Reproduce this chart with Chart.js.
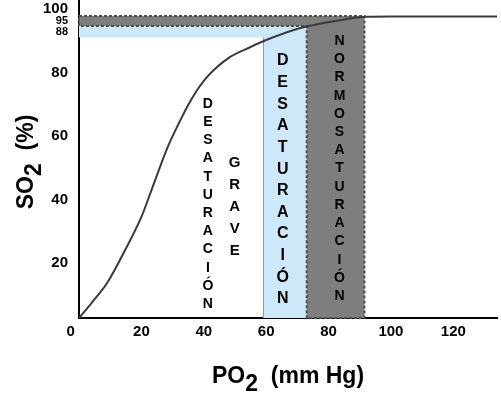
<!DOCTYPE html>
<html><head><meta charset="utf-8">
<script src="https://cdn.jsdelivr.net/npm/chart.js@4/dist/chart.umd.min.js"></script>
<style>html,body{margin:0;padding:0;background:#fff}canvas{display:block}</style>
</head><body>
<canvas id="c" width="501" height="398"></canvas>
<script>
// Oxyhemoglobin dissociation curve
const po2 = [0, 4, 9, 15, 20, 24, 28, 31, 36, 41, 48, 55, 60, 71, 84, 92, 100, 134];
const so2 = [2.7, 7.4, 13.7, 24.5, 34.5, 45, 55.5, 62, 71.5, 78.5, 84.6, 88, 90.2, 94, 96.5, 97.5, 97.6, 97.6];

// Zones
const desatPO2 = [59, 73];      // desaturación (vertical strip)
const desatSO2 = [91, 94.6];    // desaturación (horizontal band)
const normoPO2 = [73, 91.5];    // normosaturación (vertical strip)
const normoSO2 = [94.6, 97.8];  // normosaturación (horizontal band)

// Ticks
const xTickValues = [0, 20, 40, 60, 80, 100, 120];
const xTickLabels = ['0    ', '20', '40', '60', '80', '100', '120'];
const yTickValues = [20, 40, 60, 80, 92.8, 96.2, 100];
const yTickLabels = ['20', '40', '60', '80', '88', '95', '100'];

// Texts
const zoneTexts = ['DESATURACIÓN', 'GRAVE', 'DESATURACIÓN', 'NORMOSATURACIÓN'];
const xTitle = ['PO', '2', '  (mm Hg)'];
const yTitle = ['SO', '2', '  (%)'];

const FONT = '"Liberation Sans", Arial, Helvetica, sans-serif';

const zonesPlugin = {
  id: 'zones',
  beforeDatasetsDraw(chart) {
    const {ctx, chartArea: a, scales: {x, y}} = chart;
    const X = v => x.getPixelForValue(v), Y = v => y.getPixelForValue(v);
    ctx.save();
    // light blue zone
    ctx.fillStyle = '#cde8f8';
    ctx.fillRect(a.left, Y(desatSO2[1]), X(desatPO2[1]) - a.left, Y(desatSO2[0]) - Y(desatSO2[1]));
    ctx.fillRect(X(desatPO2[0]), Y(desatSO2[1]), X(desatPO2[1]) - X(desatPO2[0]), a.bottom - Y(desatSO2[1]));
    ctx.strokeStyle = '#9a9a9a'; ctx.lineWidth = 1;
    ctx.beginPath();
    ctx.moveTo(Math.round(X(desatPO2[0])) + 0.5, Y(desatSO2[0]));
    ctx.lineTo(Math.round(X(desatPO2[0])) + 0.5, a.bottom);
    ctx.stroke();
    // dark gray zone
    ctx.beginPath();
    ctx.moveTo(a.left, Y(normoSO2[1]));
    ctx.lineTo(X(normoPO2[1]), Y(normoSO2[1]));
    ctx.lineTo(X(normoPO2[1]), a.bottom);
    ctx.lineTo(X(normoPO2[0]), a.bottom);
    ctx.lineTo(X(normoPO2[0]), Y(normoSO2[0]));
    ctx.lineTo(a.left, Y(normoSO2[0]));
    ctx.closePath();
    ctx.fillStyle = '#7e7e7e';
    ctx.fill();
    ctx.setLineDash([3, 2]);
    ctx.lineWidth = 2;
    ctx.strokeStyle = '#4e4e4e';
    ctx.stroke();
    ctx.restore();
  },
  afterDatasetsDraw(chart) {
    const {ctx, scales: {x, y}} = chart;
    const X = v => x.getPixelForValue(v), Y = v => y.getPixelForValue(v);
    const cols = [
      {t: zoneTexts[0], px: 41.3, s0: 70.4, s1: 7.4, size: 14},
      {t: zoneTexts[1], px: 49.9, s0: 51.8, s1: 24.1, size: 15},
      {t: zoneTexts[2], px: 65.3, s0: 83.9, s1: 9.0, size: 16},
      {t: zoneTexts[3], px: 83.5, s0: 90.2, s1: 9.9, size: 14}
    ];
    ctx.save();
    ctx.fillStyle = '#000';
    ctx.textAlign = 'center';
    ctx.textBaseline = 'middle';
    cols.forEach(c => {
      ctx.font = 'bold ' + c.size + 'px ' + FONT;
      const letters = Array.from(c.t);
      const y0 = Y(c.s0), y1 = Y(c.s1);
      const step = (y1 - y0) / (letters.length - 1);
      letters.forEach((ch, i) => ctx.fillText(ch, X(c.px), y0 + i * step + 1));
    });
    ctx.restore();
  },
  afterDraw(chart) {
    const ctx = chart.ctx;
    ctx.save();
    ctx.fillStyle = '#000';
    ctx.textBaseline = 'alphabetic';
    ctx.textAlign = 'left';
    // x title
    ctx.font = 'bold 23px ' + FONT;
    const w0 = ctx.measureText(xTitle[0]).width;
    const w1 = ctx.measureText(xTitle[1]).width;
    const w2 = ctx.measureText(xTitle[2]).width;
    let sx = 288 - (w0 + w1 + w2) / 2;
    ctx.fillText(xTitle[0], sx, 383);
    ctx.fillText(xTitle[1], sx + w0, 391);
    ctx.fillText(xTitle[2], sx + w0 + w1, 383);
    // y title
    const v0 = ctx.measureText(yTitle[0]).width;
    const v1 = ctx.measureText(yTitle[1]).width;
    const v2 = ctx.measureText(yTitle[2]).width;
    ctx.translate(33, 162 + (v0 + v1 + v2) / 2);
    ctx.rotate(-Math.PI / 2);
    ctx.fillText(yTitle[0], 0, 0);
    ctx.fillText(yTitle[1], v0, 8);
    ctx.fillText(yTitle[2], v0 + v1, 0);
    ctx.restore();
  }
};

new Chart(document.getElementById('c'), {
  type: 'line',
  data: {
    datasets: [{
      data: po2.map((v, i) => ({x: v, y: so2[i]})),
      borderColor: '#3a3a3a',
      borderWidth: 2,
      pointRadius: 0,
      cubicInterpolationMode: 'monotone',
      fill: false
    }]
  },
  options: {
    responsive: false,
    animation: false,
    devicePixelRatio: 1,
    layout: {padding: {left: 0, right: 4, top: 0, bottom: 0}},
    plugins: {legend: {display: false}, tooltip: {enabled: false}},
    scales: {
      x: {
        type: 'linear', min: 0, max: 134,
        grid: {display: false, drawTicks: false},
        border: {display: true, color: '#000', width: 2},
        afterBuildTicks: s => { s.ticks = xTickValues.map(v => ({value: v})); },
        afterFit: s => { s.height = 80; s.paddingLeft = 0; s.paddingRight = 0; },
        ticks: {
          color: '#000', padding: 5, autoSkip: false, maxRotation: 0,
          font: {family: FONT, size: 15, weight: 'bold'},
          callback: (v) => xTickLabels[xTickValues.indexOf(v)]
        }
      },
      y: {
        type: 'linear', min: 2.7, max: 102.8,
        grid: {display: false, drawTicks: false},
        border: {display: true, color: '#000', width: 2},
        afterBuildTicks: s => { s.ticks = yTickValues.map(v => ({value: v})); },
        afterFit: s => { s.width = 79; s.paddingTop = 0; s.paddingBottom = 0; },
        ticks: {
          color: '#000', padding: 11, autoSkip: false,
          font: ctx => ({family: FONT, weight: 'bold', size: (ctx.index === 4 || ctx.index === 5) ? 11 : 15, lineHeight: 1}),
          callback: (v) => yTickLabels[yTickValues.indexOf(v)]
        }
      }
    }
  },
  plugins: [zonesPlugin]
});
</script>
</body></html>
